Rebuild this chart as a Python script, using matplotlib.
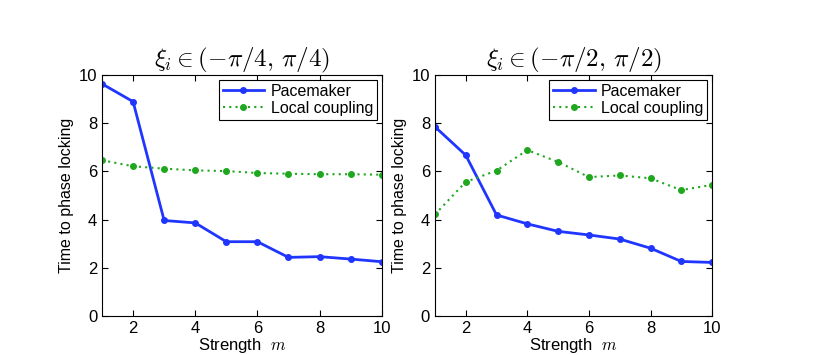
import numpy as np
import matplotlib
matplotlib.use("Agg")
import matplotlib.pyplot as plt

plt.rcParams['font.family'] = ['Liberation Sans', 'DejaVu Sans']
plt.rcParams['mathtext.fontset'] = 'cm'

strength = np.arange(1, 11)

# left panel: xi in (-pi/4, pi/4)
pace_left = [9.63, 8.89, 3.96, 3.86, 3.08, 3.08, 2.43, 2.46, 2.36, 2.25]
local_left = [6.46, 6.21, 6.11, 6.04, 6.01, 5.93, 5.90, 5.88, 5.88, 5.86]

# right panel: xi in (-pi/2, pi/2)
pace_right = [7.85, 6.67, 4.19, 3.82, 3.51, 3.36, 3.19, 2.81, 2.26, 2.22]
local_right = [4.21, 5.56, 6.03, 6.88, 6.39, 5.76, 5.83, 5.71, 5.22, 5.44]

titles = [r'$\xi_i \in (-\pi/4,\, \pi/4)$', r'$\xi_i \in (-\pi/2,\, \pi/2)$']
blue = '#2036ff'
green = '#1fa81f'

fig = plt.figure(figsize=(8.3, 3.55), dpi=100)
ax1 = fig.add_axes([0.1229, 0.110, 0.337, 0.679])
ax2 = fig.add_axes([0.524, 0.110, 0.334, 0.679])

for ax, pace, local, title in [(ax1, pace_left, local_left, titles[0]),
                               (ax2, pace_right, local_right, titles[1])]:
    ax.plot(strength, pace, '-o', color=blue, lw=2, ms=4, label='Pacemaker')
    ax.plot(strength, local, 'o', ls=(0, (1, 2)), color=green, lw=1.5, ms=4,
            label='Local coupling')
    ax.set_xlim(1, 10)
    ax.set_ylim(0, 10)
    ax.set_xticks([2, 4, 6, 8, 10])
    ax.set_yticks([0, 2, 4, 6, 8, 10])
    ax.tick_params(direction='in', labelsize=12, length=4, top=True, right=True)
    ax.set_title(title, fontsize=18, pad=6)
    ax.set_xlabel(r'Strength  $m$', fontsize=12, labelpad=0)
    ax.set_ylabel('Time to phase locking', fontsize=11.5, labelpad=3)
    leg = ax.legend(loc='upper right', fontsize=11.5, fancybox=False, framealpha=1,
                    edgecolor='black', borderaxespad=0.3, handlelength=2.6,
                    borderpad=0.25, labelspacing=0.15, handletextpad=0.4)
    leg.get_frame().set_linewidth(0.8)

fig.savefig('out.png', dpi=100)
